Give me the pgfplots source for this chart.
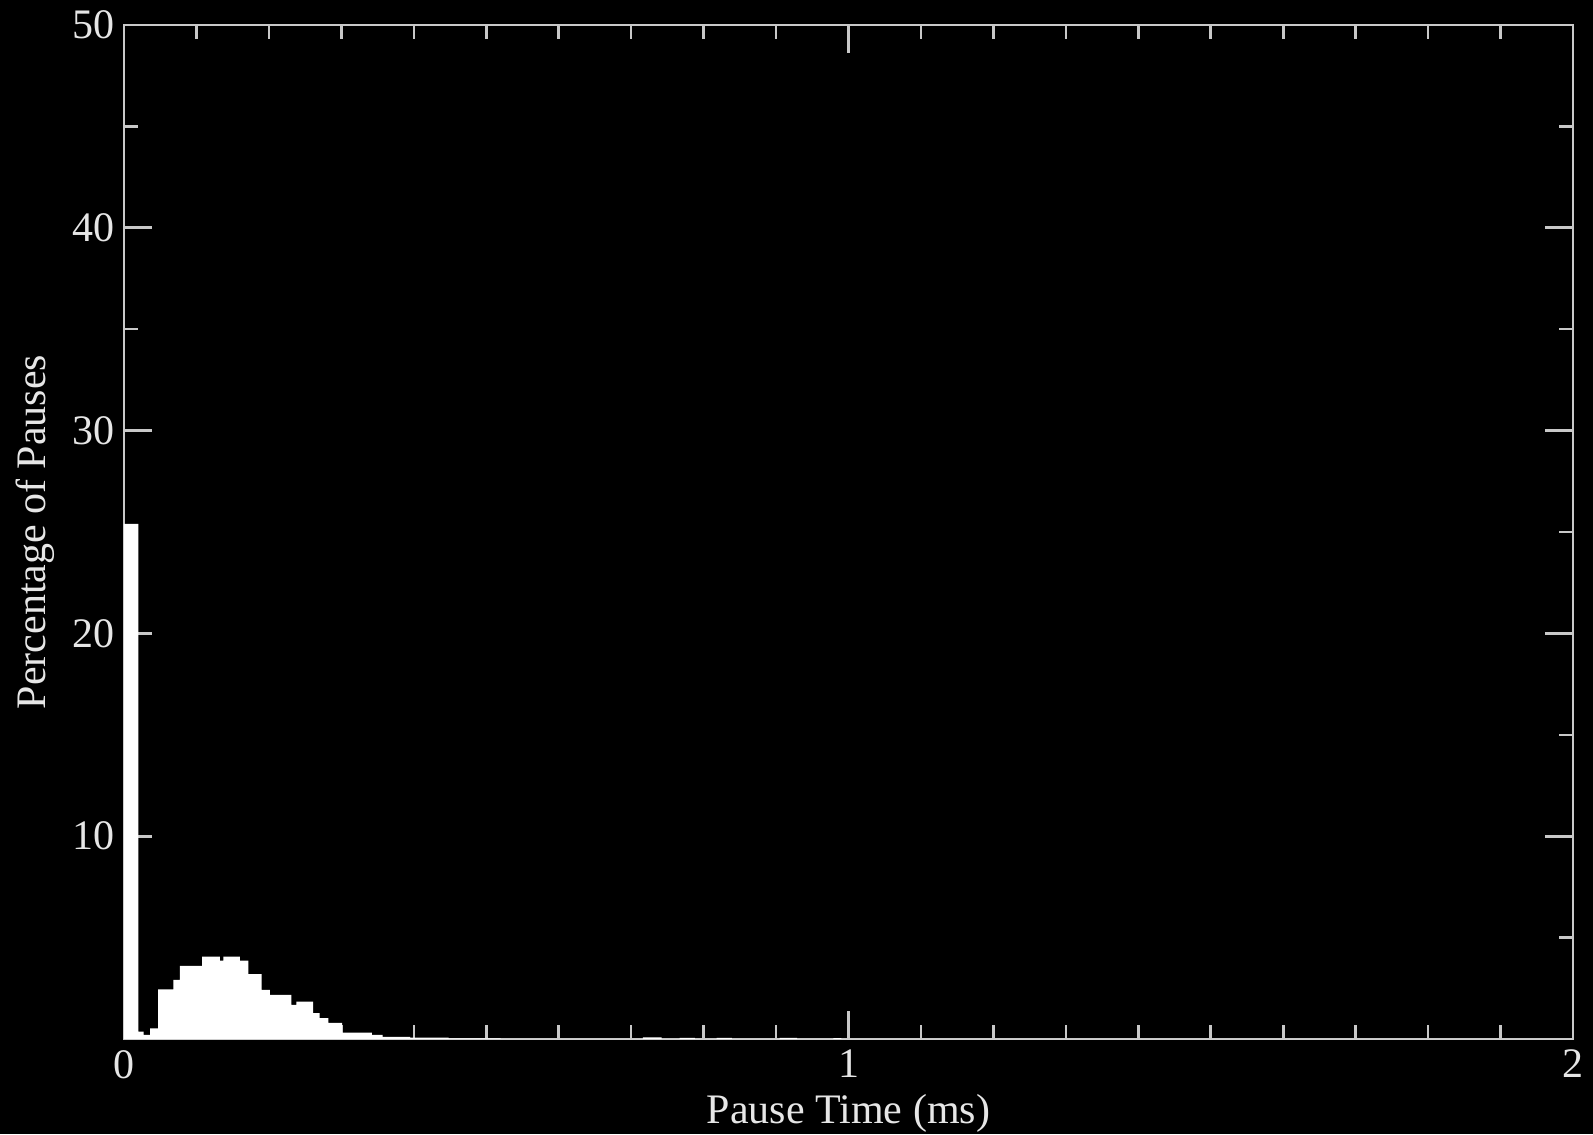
\documentclass[border=0pt]{standalone}
\usepackage{fontspec}
\setmainfont{Liberation Serif}
\usepackage{pgfplots}
\pgfplotsset{compat=1.18}
\definecolor{axgray}{HTML}{C8C8C8}
\definecolor{txtgray}{HTML}{E6E6E6}
\begin{document}
\begin{tikzpicture}
\path[use as bounding box, fill=black] (-62pt,-47.5pt) rectangle (734.5pt,519.5pt);
\begin{axis}[
  at={(0,0)}, anchor=south west,
  width=724.5pt, height=507pt, scale only axis,
  xmin=0, xmax=2, ymin=0, ymax=50,
  xtick={0,1,2}, minor x tick num=9,
  ytick={10,20,30,40,50}, minor ytick={5,15,25,35,45},
  tick align=inside,
  major tick length=14pt, minor tick length=7pt,
  axis line style={axgray, line width=1.3pt},
  every tick/.style={axgray, line width=1.3pt},
  every minor tick/.style={axgray, line width=1.3pt},
  /pgf/number format/assume math mode=true,
  ticklabel style={font=\fontsize{21}{25}\selectfont, text=txtgray},
  xticklabel style={yshift=-2pt},
  yticklabel style={xshift=-1pt},
  label style={font=\fontsize{21}{25}\selectfont, text=txtgray},
  xlabel={Pause Time (ms)},
  ylabel={Percentage of Pauses},
  xlabel style={at={(axis description cs:0.5,0)}, anchor=base, yshift=-42pt},
  ylabel style={at={(axis description cs:-0.0614,0.5)}, anchor=center},
]
\addplot[const plot, fill=white, draw=none] coordinates {
(0,25.4)
(0.0197,0.36)
(0.027,0.2)
(0.036,0.53)
(0.047,2.45)
(0.068,2.91)
(0.077,3.61)
(0.108,4.06)
(0.1325,3.86)
(0.137,4.06)
(0.160,3.86)
(0.1716,3.2)
(0.190,2.42)
(0.2015,2.17)
(0.231,1.68)
(0.238,1.84)
(0.261,1.28)
(0.270,1.03)
(0.282,0.79)
(0.301,0.31)
(0.342,0.2)
(0.357,0.11)
(0.395,0.07)
(0.448,0.03)
(0.52,0)
(0.716,0.08)
(0.742,0)
(0.767,0.06)
(0.788,0)
(0.818,0.05)
(0.839,0)
(0.905,0.05)
(0.929,0)
(0.979,0.04)
(0.99,0)
(2,0)
} \closedcycle;
\end{axis}
\end{tikzpicture}
\end{document}
